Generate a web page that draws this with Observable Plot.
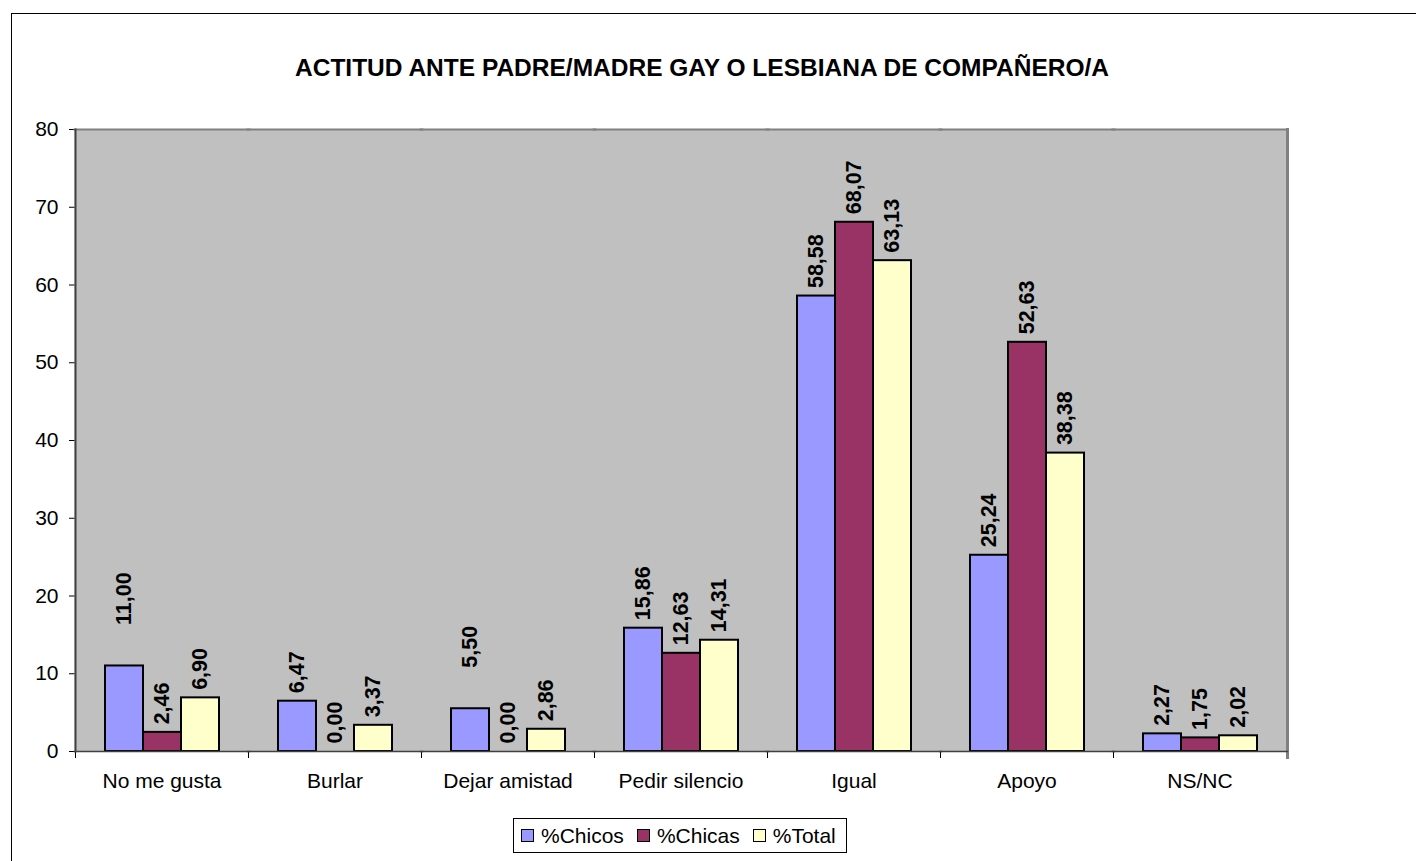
<!DOCTYPE html>
<html>
<head>
<meta charset="utf-8">
<script src="https://cdn.jsdelivr.net/npm/d3@7"></script>
<script src="https://cdn.jsdelivr.net/npm/@observablehq/plot@0.6"></script>
<style>
  html, body { margin: 0; padding: 0; background: #fff; }
  body { width: 1416px; height: 861px; overflow: hidden; position: relative;
         font-family: "Liberation Sans", Arial, sans-serif; }
  #border { position: absolute; left: 11px; top: 13px; width: 1440px; height: 900px;
            border: 1px solid #000; box-sizing: border-box; }
  #title { position: absolute; left: 0; top: 56px; width: 1404px; text-align: center;
           font-weight: bold; font-size: 24.5px; line-height: 24px; color: #000; }
  #chart { position: absolute; left: 0; top: 0; }
  #legend { position: absolute; left: 513px; top: 818px; width: 334px; height: 35px;
            border: 1px solid #000; box-sizing: border-box; display: flex; align-items: center;
            padding-left: 7px; font-size: 21px; color: #000; background: #fff; }
  .item { display: flex; align-items: center; margin-right: 13px; }
  .sw { width: 11px; height: 11px; border: 1.5px solid #000; margin-right: 7px; }
</style>
</head>
<body>
<div id="border"></div>
<div id="title">ACTITUD ANTE PADRE/MADRE GAY O LESBIANA DE COMPAÑERO/A</div>
<div id="chart"></div>
<div id="legend"></div>
<script>
const categories = ["No me gusta", "Burlar", "Dejar amistad", "Pedir silencio", "Igual", "Apoyo", "NS/NC"];
const seriesNames = ["%Chicos", "%Chicas", "%Total"];
const chicos = [11.00, 6.47, 5.50, 15.86, 58.58, 25.24, 2.27];
const chicas = [2.46, 0.00, 0.00, 12.63, 68.07, 52.63, 1.75];
const total  = [6.90, 3.37, 2.86, 14.31, 63.13, 38.38, 2.02];
const colors = ["#9999FF", "#993366", "#FFFFCC"];
const yTicks = [0, 10, 20, 30, 40, 50, 60, 70, 80];
// labels that the original chart placed higher above their bar
const raisedLabels = [["No me gusta", "%Chicos"], ["Dejar amistad", "%Chicos"]];

const seriesValues = [chicos, chicas, total];
const rows = [];
categories.forEach((c, i) => {
  seriesNames.forEach((s, j) => rows.push({cat: c, series: s, value: seriesValues[j][i]}));
});
const isRaised = d => raisedLabels.some(([c, s]) => c === d.cat && s === d.series);
const fmt = v => v.toFixed(2).replace(".", ",");

const W = 1416, H = 800, mT = 129, mB = 49, mL = 73, mR = 128;
const innerH = H - mT - mB;

const plot = Plot.plot({
  width: W, height: H,
  marginTop: mT, marginBottom: mB, marginLeft: mL, marginRight: mR,
  style: {fontFamily: "'Liberation Sans', Arial, sans-serif", fontSize: "21px", background: "transparent", overflow: "visible", color: "#000"},
  fx: {domain: categories, padding: 0, label: null, axis: "bottom", tickSize: 0, tickPadding: 22},
  x: {domain: seriesNames, paddingInner: 0, paddingOuter: 0.75, axis: null},
  y: {domain: [0, 80], ticks: yTicks, tickSize: 6, tickPadding: 11, label: null},
  color: {domain: seriesNames, range: colors},
  marks: [
    Plot.frame({fill: "#C0C0C0", stroke: null, insetLeft: -1, insetRight: -1}),
    Plot.frame({anchor: "top", stroke: "#808080", strokeWidth: 2, insetLeft: -1, insetRight: -1}),
    Plot.frame({anchor: "right", stroke: "#808080", strokeWidth: 3, facetAnchor: "right", insetBottom: -6, insetRight: -1}),
    Plot.frame({anchor: "left", stroke: "#000", strokeWidth: 1, insetTop: innerH, insetBottom: -6}),
    Plot.frame({anchor: "left", stroke: "#404040", strokeWidth: 2, facetAnchor: "left"}),
    Plot.barY(rows, {fx: "cat", x: "series", y: "value", fill: "series", stroke: "#000", strokeWidth: 2}),
    Plot.frame({anchor: "bottom", stroke: "#404040", strokeWidth: 1.5, insetLeft: -1, insetRight: -1}),
    Plot.text(rows.filter(d => !isRaised(d)), {fx: "cat", x: "series", y: "value", text: d => fmt(d.value),
      rotate: -90, textAnchor: "start", dy: -8, fontWeight: "bold", fontSize: 21.5, fill: "#000"}),
    Plot.text(rows.filter(isRaised), {fx: "cat", x: "series", y: "value", text: d => fmt(d.value),
      rotate: -90, textAnchor: "start", dy: -41, fontWeight: "bold", fontSize: 21.5, fill: "#000"})
  ]
});
document.getElementById("chart").appendChild(plot);

const legend = document.getElementById("legend");
seriesNames.forEach((s, j) => {
  const item = document.createElement("div");
  item.className = "item";
  const sw = document.createElement("div");
  sw.className = "sw";
  sw.style.background = colors[j];
  const t = document.createElement("span");
  t.textContent = s;
  item.appendChild(sw); item.appendChild(t);
  legend.appendChild(item);
});
</script>
</body>
</html>
